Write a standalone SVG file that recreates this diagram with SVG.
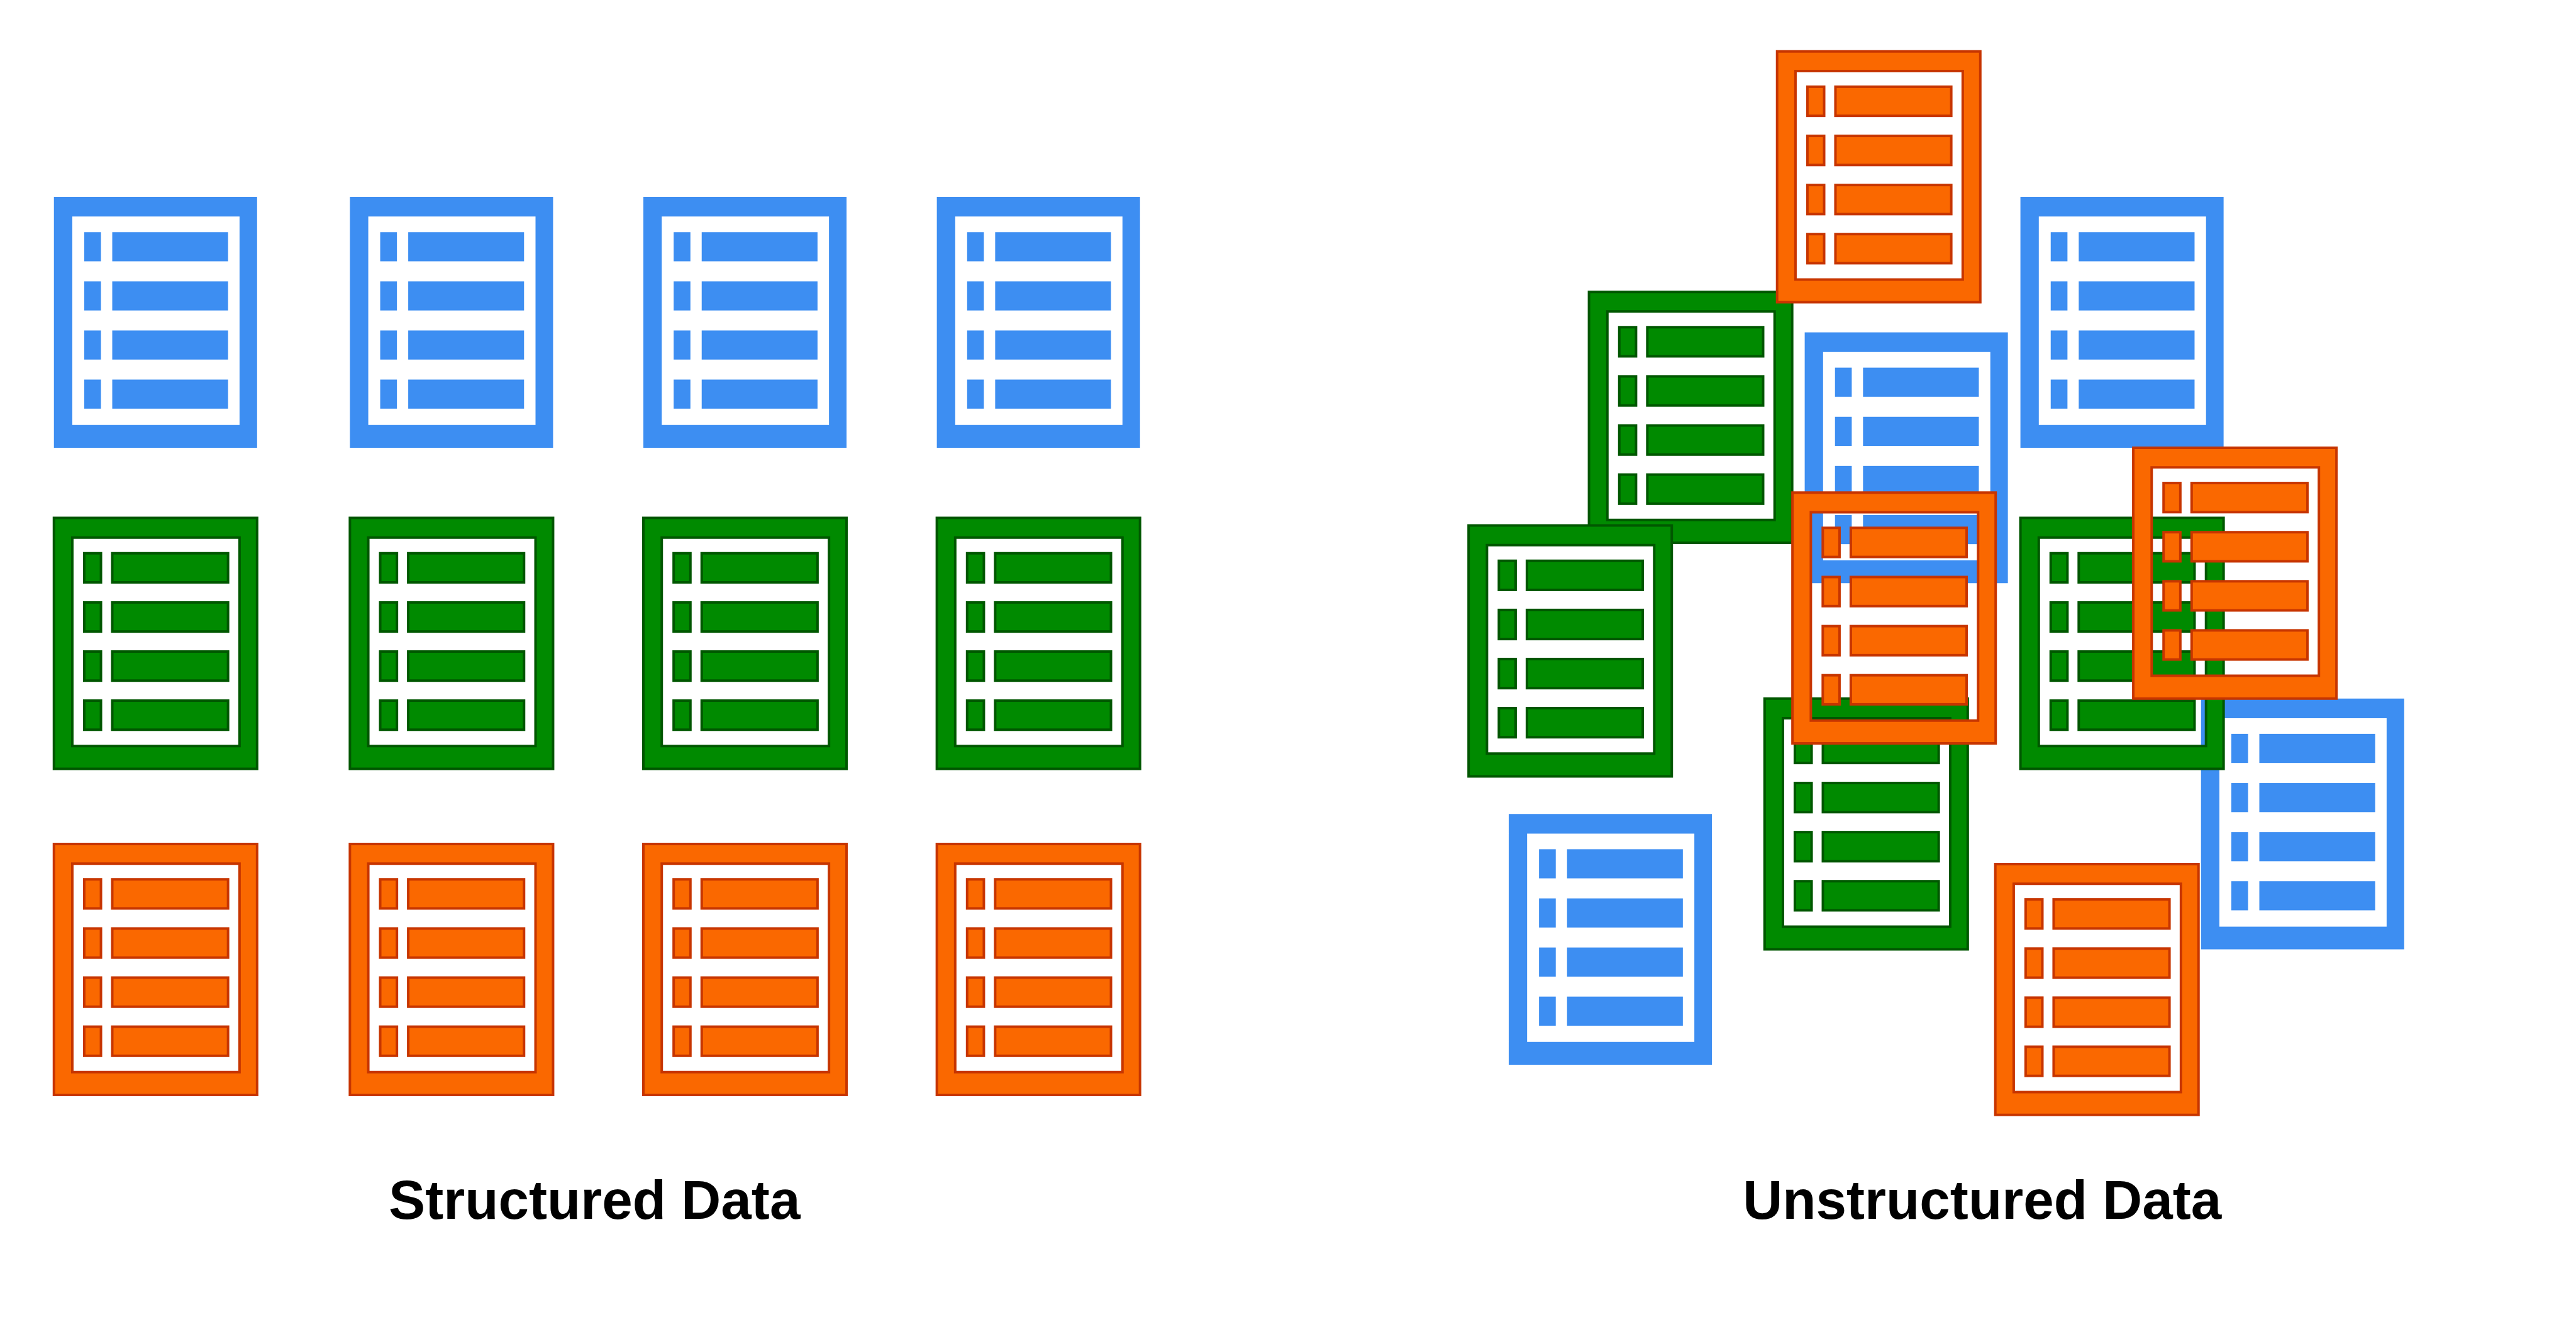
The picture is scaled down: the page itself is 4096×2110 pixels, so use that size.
<svg xmlns="http://www.w3.org/2000/svg" width="4096" height="2110" viewBox="0 0 4096 2110">
<style>
.blue{fill:#3d8ef2;stroke:none}
.green{fill:#008a00;stroke:#005700;stroke-width:4}
.orange{fill:#fa6800;stroke:#c73500;stroke-width:4}
.label{font-family:"Liberation Sans",Arial,sans-serif;font-weight:700;font-size:87.5px;fill:#000;text-anchor:middle}
</style>
<defs>
<g id="doc">
<path fill-rule="evenodd" d="M0 0H324V400H0ZM29.3 31.3V363.7H296V31.3Z"/>
<rect x="48.3" y="56.3" width="26.7" height="46.4"/>
<rect x="93" y="56.3" width="184.7" height="46.4"/>
<rect x="48.3" y="134.7" width="26.7" height="46.4"/>
<rect x="93" y="134.7" width="184.7" height="46.4"/>
<rect x="48.3" y="213" width="26.7" height="46.4"/>
<rect x="93" y="213" width="184.7" height="46.4"/>
<rect x="48.3" y="291.3" width="26.7" height="46.4"/>
<rect x="93" y="291.3" width="184.7" height="46.4"/>
</g>
</defs>
<rect width="4096" height="2110" fill="#fff"/>
<g transform="scale(0.99708)">
<g id="structured">
<g id="s-blue-1"><use href="#doc" class="blue" x="86" y="314"/></g>
<g id="s-blue-2"><use href="#doc" class="blue" x="558" y="314"/></g>
<g id="s-blue-3"><use href="#doc" class="blue" x="1026" y="314"/></g>
<g id="s-blue-4"><use href="#doc" class="blue" x="1494" y="314"/></g>
<g id="s-green-1"><use href="#doc" class="green" x="86" y="826"/></g>
<g id="s-green-2"><use href="#doc" class="green" x="558" y="826"/></g>
<g id="s-green-3"><use href="#doc" class="green" x="1026" y="826"/></g>
<g id="s-green-4"><use href="#doc" class="green" x="1494" y="826"/></g>
<g id="s-orange-1"><use href="#doc" class="orange" x="86" y="1346"/></g>
<g id="s-orange-2"><use href="#doc" class="orange" x="558" y="1346"/></g>
<g id="s-orange-3"><use href="#doc" class="orange" x="1026" y="1346"/></g>
<g id="s-orange-4"><use href="#doc" class="orange" x="1494" y="1346"/></g>
</g>
<g id="unstructured">
<g id="u-green-upper"><use href="#doc" class="green" x="2534" y="465.5"/></g>
<g id="u-green-left"><use href="#doc" class="green" x="2342" y="838"/></g>
<g id="u-blue-center"><use href="#doc" class="blue" x="2878" y="530"/></g>
<g id="u-green-bottom"><use href="#doc" class="green" x="2814" y="1114"/></g>
<g id="u-orange-center"><use href="#doc" class="orange" x="2858.5" y="785.5"/></g>
<g id="u-orange-top"><use href="#doc" class="orange" x="2834" y="82"/></g>
<g id="u-blue-top-right"><use href="#doc" class="blue" x="3222" y="314"/></g>
<g id="u-blue-bottom-right"><use href="#doc" class="blue" x="3510" y="1114"/></g>
<g id="u-green-right"><use href="#doc" class="green" x="3222" y="826"/></g>
<g id="u-orange-right"><use href="#doc" class="orange" x="3402" y="714"/></g>
<g id="u-blue-bottom-left"><use href="#doc" class="blue" x="2406" y="1298"/></g>
<g id="u-orange-bottom"><use href="#doc" class="orange" x="3182" y="1378"/></g>
</g>
<text id="label-structured" class="label" x="948" y="1944">Structured Data</text>
<text id="label-unstructured" class="label" x="3161" y="1944">Unstructured Data</text>
</g>
</svg>
